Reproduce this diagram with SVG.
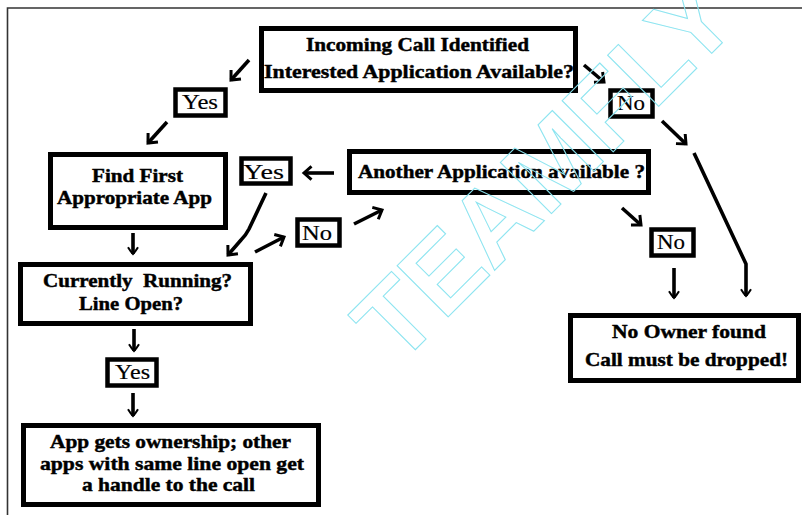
<svg xmlns="http://www.w3.org/2000/svg" width="802" height="515" viewBox="0 0 802 515">
  <style>
    .box { fill: #ffffff; stroke: #000000; stroke-width: 5; }
    .tag { fill: #ffffff; stroke: #000000; stroke-width: 4.5; }
    .t { font-family: "Liberation Serif", "Times New Roman", serif; font-weight: bold; font-size: 19px; fill: #000000; stroke: #000000; stroke-width: 0.45; white-space: pre; }
    .yn { font-family: "Liberation Serif", "Times New Roman", serif; font-size: 22px; fill: #000000; stroke: #000000; stroke-width: 0.2; }
    .wire { fill: none; stroke: #000000; stroke-width: 3.6; stroke-linecap: butt; stroke-linejoin: round; }
    .mark { font-family: "Liberation Sans", Arial, sans-serif; font-weight: bold; font-size: 105px; fill: none; stroke: #8be4f0; stroke-width: 1; }
  </style>
  <defs>
    <marker id="head" markerUnits="userSpaceOnUse" markerWidth="20" markerHeight="20" refX="0" refY="0" viewBox="-12 -12 24 24" orient="auto" overflow="visible">
      <path d="M-9,-8 L0,0 L-9,8" fill="none" stroke="#000000" stroke-width="3.6" stroke-linejoin="miter"/>
    </marker>
    <marker id="tip" markerUnits="userSpaceOnUse" markerWidth="20" markerHeight="20" refX="0" refY="0" viewBox="-12 -12 24 24" orient="auto" overflow="visible">
      <path d="M-8,-6 Q-3,-3 0,0 Q-3,3 -8,6" fill="none" stroke="#000000" stroke-width="2.4"/>
    </marker>
  </defs>

  <rect width="802" height="515" fill="#ffffff"/>

  <!-- page frame -->
  <path d="M7.5,515 L7.5,8 L802,8" fill="none" stroke="#333333" stroke-width="1.6"/>

  <!-- connectors -->
  <g id="connectors">
    <path class="wire" d="M249,60 L231,80" marker-end="url(#head)"/>
    <path class="wire" d="M167,122 L148,143" marker-end="url(#head)"/>
    <path class="wire" d="M584,65 L604,82" marker-end="url(#head)"/>
    <path class="wire" d="M662,121 L686,144" marker-end="url(#head)"/>
    <path class="wire" d="M694,153 L746,264 L746,296" marker-end="url(#tip)"/>
    <path class="wire" d="M622,208 L641,225" marker-end="url(#head)"/>
    <path class="wire" d="M674,268 L674,298" marker-end="url(#tip)"/>
    <path class="wire" d="M334,173 L304,173" marker-end="url(#head)"/>
    <path class="wire" d="M266,193 L249,229 Q246,235 241,240 L228,255" marker-end="url(#head)"/>
    <path class="wire" d="M255,252 L284,237" marker-end="url(#head)"/>
    <path class="wire" d="M354,224 L382,210" marker-end="url(#head)"/>
    <path class="wire" d="M133,233 L133,254" marker-end="url(#tip)"/>
    <path class="wire" d="M134,329 L134,351" marker-end="url(#tip)"/>
    <path class="wire" d="M133,393 L133,416" marker-end="url(#tip)"/>
  </g>

  <!-- nodes -->
  <g id="incoming">
    <rect class="box" x="261.5" y="28.5" width="314" height="62"/>
    <text class="t" x="306" y="51" textLength="223" lengthAdjust="spacingAndGlyphs">Incoming Call Identified</text>
    <text class="t" x="264" y="78" textLength="310" lengthAdjust="spacingAndGlyphs">Interested Application Available?</text>
  </g>

  <g id="yes-first">
    <rect class="tag" x="175.5" y="89.5" width="50" height="26"/>
    <text class="yn" x="182" y="109" textLength="36" lengthAdjust="spacingAndGlyphs">Yes</text>
  </g>

  <g id="no-first">
    <rect class="tag" x="610.5" y="90.5" width="42" height="26"/>
    <text class="yn" x="617" y="110" textLength="28" lengthAdjust="spacingAndGlyphs">No</text>
  </g>

  <g id="find-app">
    <rect class="box" x="50.5" y="154.5" width="175" height="73"/>
    <text class="t" x="92" y="182" textLength="91" lengthAdjust="spacingAndGlyphs">Find First</text>
    <text class="t" x="57" y="204" textLength="155" lengthAdjust="spacingAndGlyphs">Appropriate App</text>
  </g>

  <g id="yes-another">
    <rect class="tag" x="241.5" y="158.5" width="49" height="25"/>
    <text class="yn" x="243" y="179" textLength="41" lengthAdjust="spacingAndGlyphs">Yes</text>
  </g>

  <g id="another-app">
    <rect class="box" x="349.5" y="151.5" width="299" height="41"/>
    <text class="t" x="358" y="178" textLength="287" lengthAdjust="spacingAndGlyphs">Another Application available ?</text>
  </g>

  <g id="no-running">
    <rect class="tag" x="297.5" y="219.5" width="42" height="26"/>
    <text class="yn" x="302" y="240" textLength="30" lengthAdjust="spacingAndGlyphs">No</text>
  </g>

  <g id="no-another">
    <rect class="tag" x="651.5" y="229.5" width="42" height="26"/>
    <text class="yn" x="657" y="249" textLength="28" lengthAdjust="spacingAndGlyphs">No</text>
  </g>

  <g id="running">
    <rect class="box" x="20.5" y="264.5" width="230" height="59"/>
    <text class="t" x="43" y="287" textLength="189" lengthAdjust="spacingAndGlyphs">Currently  Running?</text>
    <text class="t" x="79" y="310" textLength="104" lengthAdjust="spacingAndGlyphs">Line Open?</text>
  </g>

  <g id="yes-running">
    <rect class="tag" x="107.5" y="359.5" width="49" height="26"/>
    <text class="yn" x="115" y="379" textLength="35" lengthAdjust="spacingAndGlyphs">Yes</text>
  </g>

  <g id="ownership">
    <rect class="box" x="23.5" y="425.5" width="295" height="79"/>
    <text class="t" x="50" y="448" textLength="241" lengthAdjust="spacingAndGlyphs">App gets ownership; other</text>
    <text class="t" x="40" y="470" textLength="264" lengthAdjust="spacingAndGlyphs">apps with same line open get</text>
    <text class="t" x="82" y="491" textLength="173" lengthAdjust="spacingAndGlyphs">a handle to the call</text>
  </g>

  <g id="no-owner">
    <rect class="box" x="570.5" y="315.5" width="228" height="65"/>
    <text class="t" x="612" y="338" textLength="154" lengthAdjust="spacingAndGlyphs">No Owner found</text>
    <text class="t" x="585" y="366" textLength="203" lengthAdjust="spacingAndGlyphs">Call must be dropped!</text>
  </g>

  <!-- outlined watermark across the page -->
  <text class="mark" transform="translate(398,367) rotate(-45)">TEAMFLY</text>
</svg>
